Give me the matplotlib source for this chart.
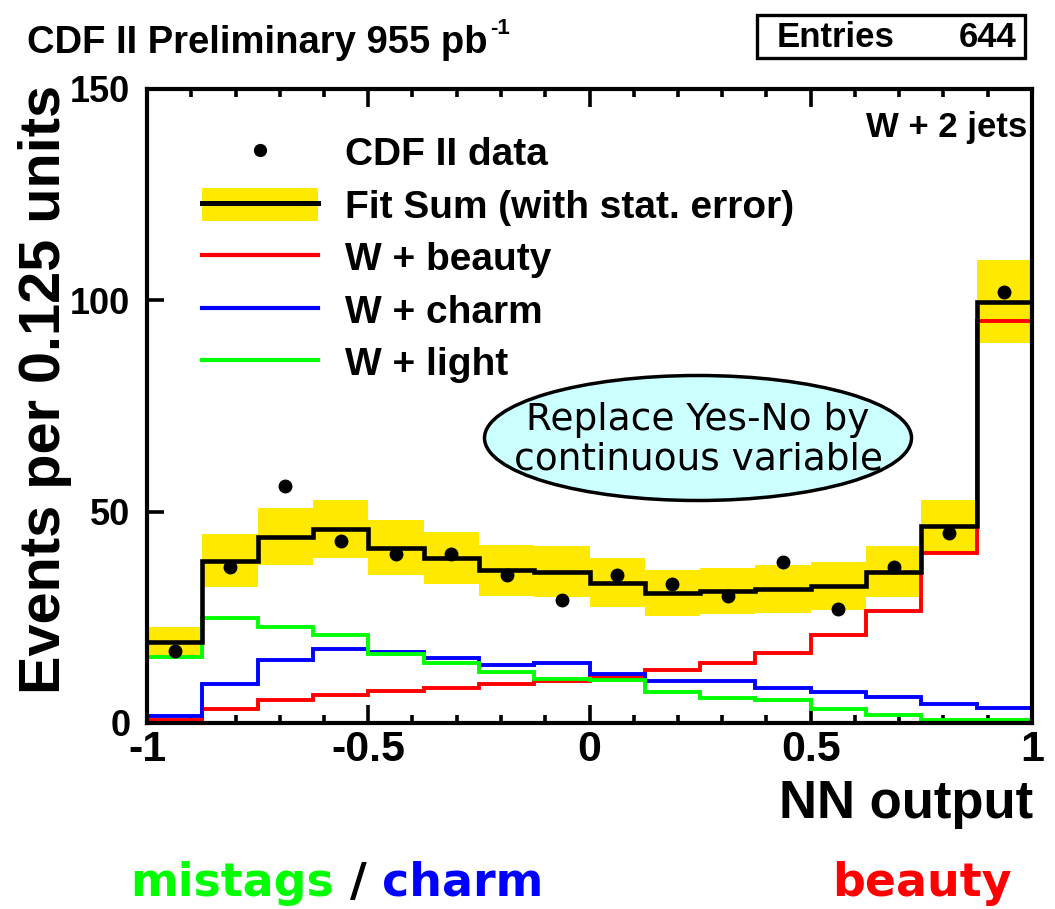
import numpy as np
import matplotlib
matplotlib.use("Agg")
import matplotlib.pyplot as plt
from matplotlib.patches import Ellipse, Rectangle, Patch
from matplotlib.lines import Line2D

plt.rcParams['font.family'] = ['Liberation Sans', 'DejaVu Sans']
plt.rcParams['font.weight'] = 'bold'

# NN output histogram, 16 bins of 0.125 between -1 and 1
bin_edges = np.linspace(-1.0, 1.0, 17)
data = [17, 37, 56, 43, 40, 40, 35, 29, 35, 33, 30, 38, 27, 37, 45, 102]
fit_sum = [19.2, 38.4, 44.1, 45.9, 41.5, 39.1, 36.1, 35.8, 33.2, 30.7, 31.2, 31.7, 32.4, 35.8, 46.5, 99.7]
fit_err = [3.6, 6.2, 6.8, 6.9, 6.6, 6.1, 6.0, 6.0, 5.8, 5.5, 5.5, 5.6, 5.7, 6.0, 6.3, 9.9]
w_beauty = [0.8, 3.4, 5.4, 6.6, 7.5, 8.3, 9.2, 10.0, 10.9, 12.5, 14.1, 16.6, 20.8, 26.6, 40.2, 95.0]
w_charm = [1.6, 9.2, 14.9, 17.4, 16.9, 15.3, 13.7, 14.1, 11.7, 9.9, 9.9, 8.2, 7.4, 6.2, 4.5, 3.6]
w_light = [15.7, 24.9, 22.8, 20.8, 16.3, 14.1, 12.1, 10.3, 10.2, 7.4, 5.8, 5.4, 3.2, 2.0, 0.8, 0.7]

legend_labels = ['CDF II data', 'Fit Sum (with stat. error)', 'W + beauty', 'W + charm', 'W + light']

YELLOW = '#ffe900'
RED, BLUE, GREEN = '#ff0000', '#0000ff', '#00ff00'

W, H = 1055, 909
fig = plt.figure(figsize=(W / 100, H / 100), dpi=100)

def fx(px):
    return px / W

def fy(py):
    return 1 - py / H

ax = fig.add_axes([fx(147), fy(723), (1032 - 147) / W, (723 - 89) / H])

centers = 0.5 * (bin_edges[:-1] + bin_edges[1:])
fit_arr = np.array(fit_sum)
err_arr = np.array(fit_err)

# stat. error band around the fit
ax.bar(centers, 2 * err_arr, bottom=fit_arr - err_arr, width=0.125,
       color=YELLOW, linewidth=0, zorder=1)
ax.stairs(w_beauty, bin_edges, baseline=None, color=RED, lw=2.8, zorder=2)
ax.stairs(w_charm, bin_edges, baseline=None, color=BLUE, lw=2.8, zorder=2)
ax.stairs(w_light, bin_edges, baseline=None, color=GREEN, lw=2.8, zorder=2)
ax.stairs(fit_sum, bin_edges, baseline=None, color='black', lw=3.3, zorder=3)
ax.plot(centers, data, 'o', color='black', ms=9, zorder=4, clip_on=False)

ax.set_xlim(-1, 1)
ax.set_ylim(0, 150)
ax.set_xticks([-1, -0.5, 0, 0.5, 1])
ax.set_xticklabels(['-1', '-0.5', '0', '0.5', '1'])
ax.set_xticks(np.arange(-0.9, 1.0, 0.1), minor=True)
ax.set_yticks([0, 50, 100, 150])
ax.tick_params(axis='x', which='both', direction='in', top=True, width=2.6, pad=5, labelsize=31)
ax.tick_params(axis='x', which='major', length=13)
ax.tick_params(axis='x', which='minor', length=6)
ax.tick_params(axis='y', which='major', direction='in', length=12, width=2.6, pad=12, labelsize=26)
for sp in ax.spines.values():
    sp.set_linewidth(3)

# legend
h_data = Line2D([], [], ls='none', marker='o', color='black', ms=8.5)
h_fit = (Patch(facecolor=YELLOW, linewidth=0), Line2D([], [], color='black', lw=3.6))
h_b = Line2D([], [], color=RED, lw=3)
h_c = Line2D([], [], color=BLUE, lw=3)
h_l = Line2D([], [], color=GREEN, lw=3)
ax.legend([h_data, h_fit, h_b, h_c, h_l], legend_labels, loc='upper left',
          bbox_to_anchor=(fx(202), fy(135)), bbox_transform=fig.transFigure,
          frameon=False, borderpad=0, borderaxespad=0, handlelength=2.98,
          handleheight=0.95, handletextpad=0.69, labelspacing=0.37,
          prop={'size': 28, 'weight': 'bold'})

# labels and titles
fig.text(fx(45), fy(389), 'Events per 0.125 units', rotation=90, ha='center', va='center', fontsize=41.5)
fig.text(fx(1033), fy(818), 'NN output', ha='right', va='baseline', fontsize=38)
title = fig.text(fx(27), fy(53), 'CDF II Preliminary 955 pb', ha='left', va='baseline', fontsize=27.5)
fig.canvas.draw()
r = fig.canvas.get_renderer()
tb = title.get_window_extent(r)
fig.text(tb.x1 / W + 0.002, fy(34), '-1', ha='left', va='baseline', fontsize=16)
fig.text(fx(1027), fy(137), 'W + 2 jets', ha='right', va='baseline', fontsize=25)

# stats box
fig.add_artist(Rectangle((fx(757), fy(58)), (1025 - 757) / W, (58 - 15) / H,
                         transform=fig.transFigure, facecolor='white', edgecolor='black', lw=2.4))
fig.text(fx(777), fy(47), 'Entries', ha='left', va='baseline', fontsize=25)
fig.text(fx(1017), fy(47), '644', ha='right', va='baseline', fontsize=25)

# callout
fig.add_artist(Ellipse((fx(698), fy(438)), 427 / W, 125 / H, transform=fig.transFigure,
                       facecolor='#ccffff', edgecolor='black', lw=2.5))
fig.text(fx(698), fy(430), 'Replace Yes-No by', ha='center', va='baseline',
         fontsize=27, family='DejaVu Sans', weight='normal')
fig.text(fx(698), fy(470), 'continuous variable', ha='center', va='baseline',
         fontsize=27, family='DejaVu Sans', weight='normal')

# bottom annotations
base = fy(896)
t1 = fig.text(fx(130), base, 'mistags', ha='left', va='baseline', fontsize=33,
              family='DejaVu Sans', color=GREEN)
bb = t1.get_window_extent(r)
t2 = fig.text(bb.x1 / W, base, ' / ', ha='left', va='baseline', fontsize=33,
              family='DejaVu Sans', color='black')
bb = t2.get_window_extent(r)
fig.text(bb.x1 / W, base, 'charm', ha='left', va='baseline', fontsize=33,
         family='DejaVu Sans', color=BLUE)
fig.text(fx(1012), base, 'beauty', ha='right', va='baseline', fontsize=33,
         family='DejaVu Sans', color=RED)

fig.savefig('out.png', dpi=100)
